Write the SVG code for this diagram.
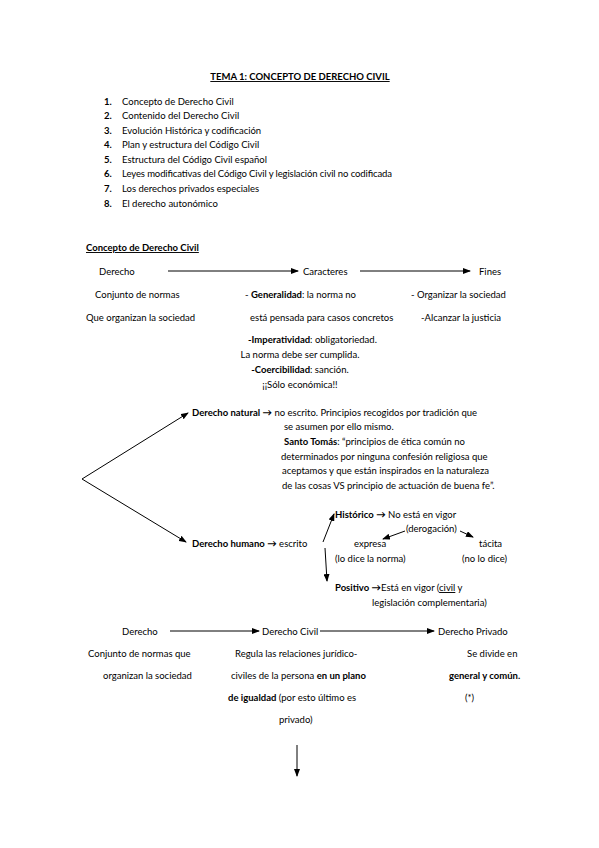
<svg xmlns="http://www.w3.org/2000/svg" width="599" height="848" viewBox="0 0 599 848">
<style>
text{font-family:Lato,"Liberation Sans",sans-serif;font-size:9.5px;fill:#000}
.b{font-weight:bold}
.u{text-decoration:underline}
.m{text-anchor:middle}
.ln{stroke:#000;stroke-width:1;fill:none}
</style>
<defs>
<marker id="ah" markerWidth="8" markerHeight="6" refX="7" refY="3" orient="auto" markerUnits="userSpaceOnUse">
<path d="M0,0 L8,3 L0,6 Z" fill="#000"/>
</marker>
</defs>
<rect width="599" height="848" fill="#fff"/>
<g id="title">
<text x="300" y="80" class="b u m">TEMA 1: CONCEPTO DE DERECHO CIVIL</text>
</g>
<g id="index">
<text x="104" y="105" class="b">1.</text><text x="122" y="105">Concepto de Derecho Civil</text>
<text x="104" y="119" class="b">2.</text><text x="122" y="119">Contenido del Derecho Civil</text>
<text x="104" y="134" class="b">3.</text><text x="122" y="134">Evolución Histórica y codificación</text>
<text x="104" y="148" class="b">4.</text><text x="122" y="148">Plan y estructura del Código Civil</text>
<text x="104" y="163" class="b">5.</text><text x="122" y="163">Estructura del Código Civil español</text>
<text x="104" y="177" class="b">6.</text><text x="122" y="177" textLength="270" lengthAdjust="spacing">Leyes modificativas del Código Civil y legislación civil no codificada</text>
<text x="104" y="192" class="b">7.</text><text x="122" y="192">Los derechos privados especiales</text>
<text x="104" y="207" class="b">8.</text><text x="122" y="207">El derecho autonómico</text>
</g>
<g id="section">
<text x="86" y="251" class="b u">Concepto de Derecho Civil</text>
</g>
<g id="connectors">
<line class="ln" x1="168" y1="271" x2="298" y2="271" marker-end="url(#ah)"/>
<line class="ln" x1="360" y1="271" x2="470" y2="271" marker-end="url(#ah)"/>
<line class="ln" x1="82" y1="479" x2="188" y2="413" marker-end="url(#ah)"/>
<line class="ln" x1="82" y1="479" x2="186" y2="542" marker-end="url(#ah)"/>
<line class="ln" x1="323" y1="542" x2="334" y2="514" marker-end="url(#ah)"/>
<line class="ln" x1="325" y1="548" x2="327" y2="581" marker-end="url(#ah)"/>
<line class="ln" x1="405" y1="531" x2="383" y2="539" marker-end="url(#ah)"/>
<line class="ln" x1="460" y1="531" x2="473" y2="537" marker-end="url(#ah)"/>
<line class="ln" x1="170" y1="631" x2="259" y2="631" marker-end="url(#ah)"/>
<line class="ln" x1="320" y1="631" x2="434" y2="631" marker-end="url(#ah)"/>
<line class="ln" x1="297" y1="745" x2="297" y2="776" marker-end="url(#ah)"/>
</g>
<g id="derecho1">
<text x="99" y="275">Derecho</text>
<text x="95" y="298">Conjunto de normas</text>
<text x="86" y="321">Que organizan la sociedad</text>
</g>
<g id="caracteres">
<text x="303" y="275">Caracteres</text>
<text x="245" y="298">- <tspan class="b">Generalidad</tspan>: la norma no</text>
<text x="250" y="321">está pensada para casos concretos</text>
<text x="248" y="343"><tspan class="b">-Imperatividad</tspan>: obligatoriedad.</text>
<text x="300" y="358" class="m">La norma debe ser cumplida.</text>
<text x="300" y="373" class="m"><tspan class="b">-Coercibilidad</tspan>: sanción.</text>
<text x="300" y="388" class="m">¡¡Sólo económica!!</text>
</g>
<g id="fines">
<text x="479" y="275">Fines</text>
<text x="411" y="298">- Organizar la sociedad</text>
<text x="421" y="321">-Alcanzar la justicia</text>
</g>
<g id="natural">
<text x="192" y="416"><tspan class="b">Derecho natural</tspan> <tspan class="b">→</tspan> no escrito. Principios recogidos por tradición que</text>
<text x="284" y="430">se asumen por ello mismo.</text>
<text x="284" y="445"><tspan class="b">Santo Tomás</tspan>: “principios de ética común no</text>
<text x="281" y="460">determinados por ninguna confesión religiosa que</text>
<text x="282" y="474">aceptamos y que están inspirados en la naturaleza</text>
<text x="282" y="489">de las cosas VS principio de actuación de buena fe”.</text>
</g>
<g id="humano">
<text x="192" y="547"><tspan class="b">Derecho humano</tspan> <tspan class="b">→</tspan> escrito</text>
</g>
<g id="historico">
<text x="335" y="518"><tspan class="b">Histórico</tspan> <tspan class="b">→</tspan> No está en vigor</text>
<text x="406" y="532">(derogación)</text>
<text x="354" y="547">expresa</text>
<text x="335" y="562">(lo dice la norma)</text>
<text x="479" y="547">tácita</text>
<text x="462" y="562">(no lo dice)</text>
</g>
<g id="positivo">
<text x="335" y="591"><tspan class="b">Positivo</tspan> <tspan class="b">→</tspan>Está en vigor (<tspan class="u">civil</tspan> y</text>
<text x="372" y="606">legislación complementaria)</text>
</g>
<g id="derecho2">
<text x="122" y="635">Derecho</text>
<text x="88" y="657">Conjunto de normas que</text>
<text x="103" y="679">organizan la sociedad</text>
</g>
<g id="civil">
<text x="262" y="635">Derecho Civil</text>
<text x="235" y="657">Regula las relaciones jurídico-</text>
<text x="231" y="679">civiles de la persona <tspan class="b">en un plano</tspan></text>
<text x="228" y="701"><tspan class="b">de igualdad</tspan> (por esto último es</text>
<text x="279" y="723">privado)</text>
</g>
<g id="privado">
<text x="438" y="635">Derecho Privado</text>
<text x="467" y="657">Se divide en</text>
<text x="449" y="679" class="b">general y común.</text>
<text x="465" y="701">(*)</text>
</g>
</svg>
